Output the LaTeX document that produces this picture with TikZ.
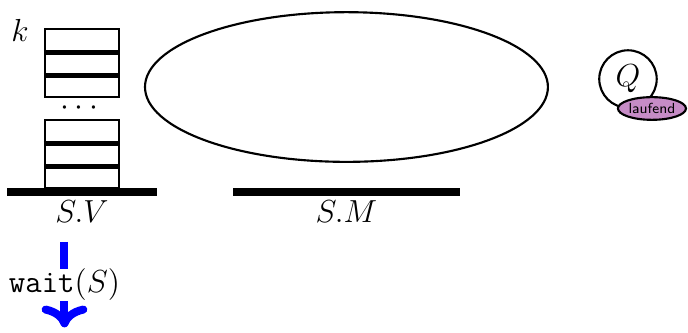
\documentclass[tikz,border=0pt]{standalone}
\usepackage{amsmath}
\usepackage{tikz}
\usetikzlibrary{arrows.meta,positioning,shapes.geometric}

\begin{document}
\begin{tikzpicture}[font=\large,
  slot/.style={draw,line width=0.8pt,minimum width=0.98cm,minimum height=0.3cm,inner sep=0pt},
  slotsep/.style={line width=2pt},
  bar/.style={fill=black,minimum height=0.1cm,inner sep=0pt},
  waitarrow/.style={->,blue,line width=3pt}]
\useasboundingbox (0,0) rectangle (9.101,-4.392);
% semaphore queue S.V
\node[slot] (sv_1) at (1.085,-0.534) {};
\node[slot] (sv_2) at (1.085,-0.834) {};
\node[slot] (sv_3) at (1.085,-1.134) {};
\node (sv_dots) at (1.085,-1.43) {$\cdots$};
\node[slot] (sv_4) at (1.085,-1.737) {};
\node[slot] (sv_5) at (1.085,-2.037) {};
\node[slot] (sv_6) at (1.085,-2.337) {};
\draw[slotsep] (sv_1.south west) -- (sv_1.south east);
\draw[slotsep] (sv_2.south west) -- (sv_2.south east);
\draw[slotsep] (sv_4.south west) -- (sv_4.south east);
\draw[slotsep] (sv_5.south west) -- (sv_5.south east);
\node (sv_k) at (0.265,-0.397) {$k$};
\node[bar,minimum width=1.984cm] (sv_bar) at (1.085,-2.54) {};
\node[below=-2pt of sv_bar] (sv_lbl) {$S.V$};
% S.M
\node[draw,ellipse,line width=0.8pt,minimum width=5.33cm,minimum height=1.98cm] (sm_set) at (4.583,-1.151) {};
\node[bar,minimum width=3.0cm] (sm_bar) at (4.583,-2.54) {};
\node[below=-2pt of sm_bar] (sm_lbl) {$S.M$};
% process Q
\node[draw,circle,line width=0.8pt,minimum size=0.76cm,inner sep=0pt] (q_proc) at (8.307,-1.045) {$Q$};
\node[draw,ellipse,line width=0.8pt,fill=violet!45,minimum width=0.9cm,minimum height=0.3cm,inner sep=0pt,font=\fontsize{5.5}{6}\selectfont\sffamily] (q_state) at (8.624,-1.435) {laufend};
% wait
\coordinate (w_top) at (0.853,-3.201);
\coordinate (w_end) at (0.853,-4.33);
\draw[waitarrow] (w_top) -- node[fill=white,text=black,inner sep=0pt] (w_lbl) {\texttt{wait}$(S)$} (w_end);
\end{tikzpicture}
\end{document}
